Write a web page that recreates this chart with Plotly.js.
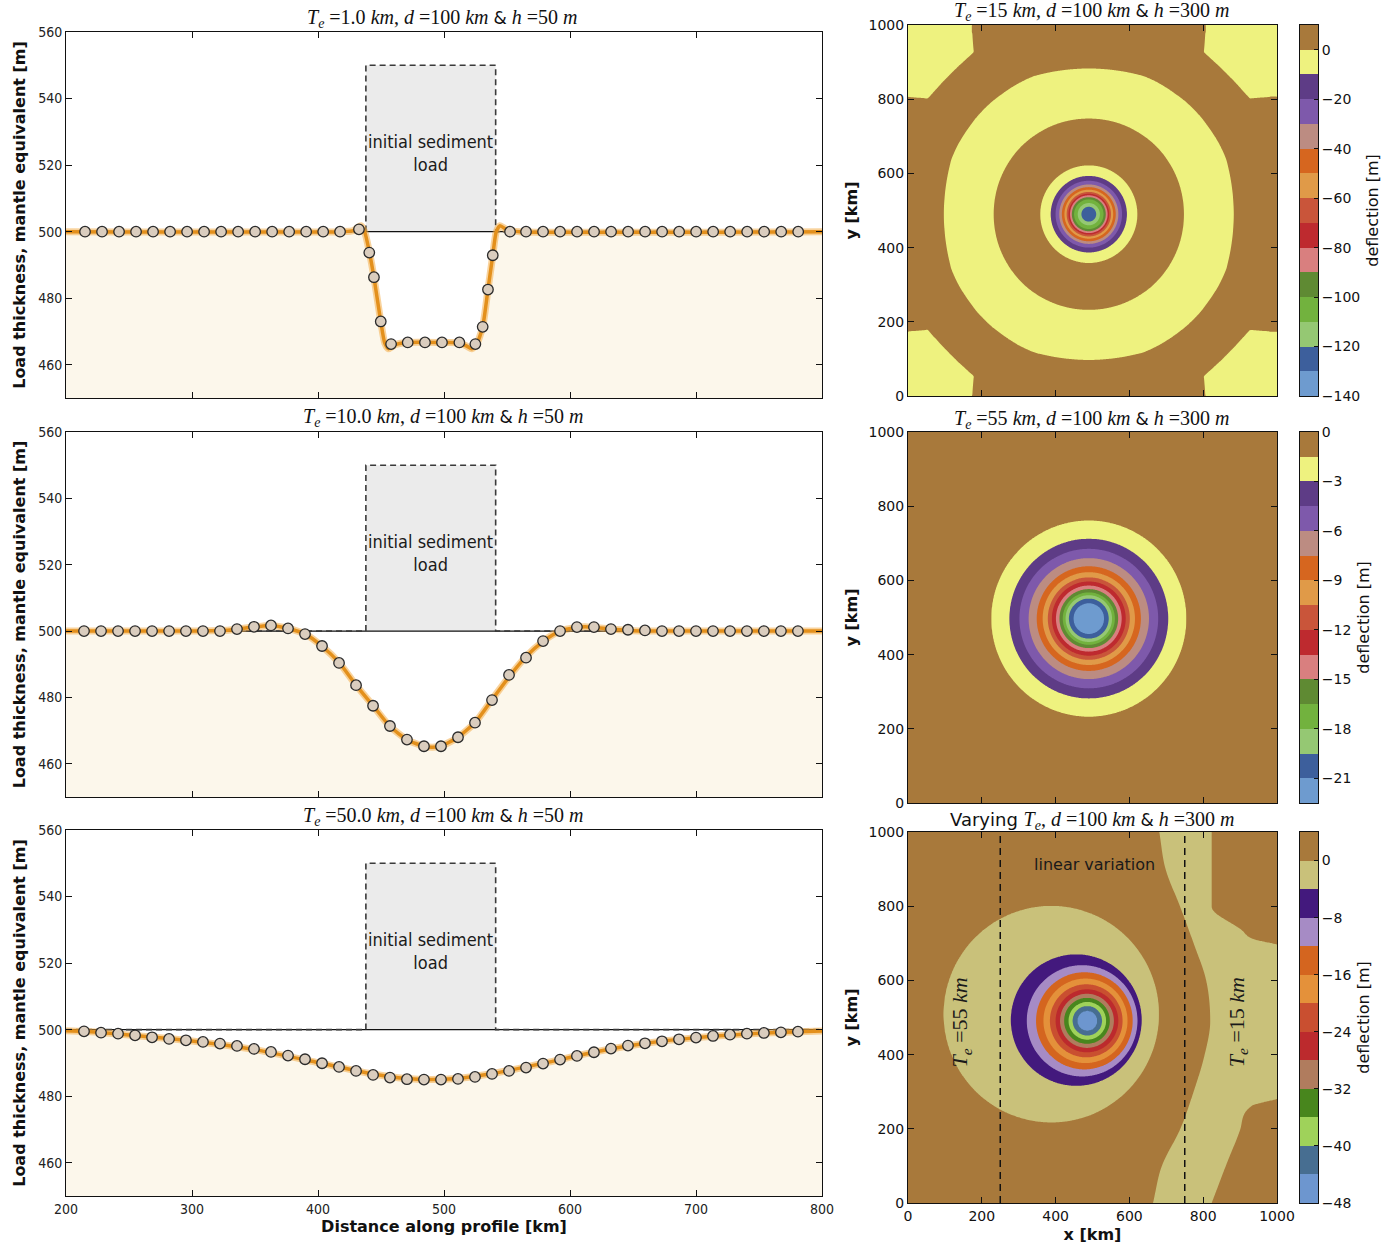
<!DOCTYPE html>
<html><head><meta charset="utf-8">
<script src="https://cdn.plot.ly/plotly-3.0.1.min.js"></script>
<style>html,body{margin:0;padding:0;background:#fff}</style>
</head><body><div id="chart" style="width:1394px;height:1245px"></div>
<script>
// ================= DATA =================
// --- profile panels (left column) ---
const profileTicksX = [200, 300, 400, 500, 600, 700, 800];
const profileTicksY = [460, 480, 500, 520, 540, 560];
const baseLevel = 500;            // mantle-equivalent surface before loading [m]
const loadStart = 438, loadEnd = 541, loadTop = 550; // initial sediment load

// Te = 1 km
const curveA_x = [200, 420, 428, 434, 437, 440.7, 444.4, 449.8, 453, 456, 461, 470, 500, 512, 518, 522, 526, 530.7, 534.9, 538.7, 541.5, 544.5, 550, 560, 800];
const curveA_y = [500, 500, 500.3, 501.8, 500, 494, 486.3, 473, 466.5, 464.8, 466, 466.7, 466.7, 466.6, 465.6, 464.8, 466.2, 471.4, 482.6, 492.9, 500, 501.8, 500.5, 500, 500];
const markersA_x = [215.1,228.6,242.1,255.6,269.1,282.6,296.1,309.6,323.1,336.6,350.1,363.6,377.1,390.6,404.1,417.5,
  432.5,440.7,444.4,449.8,458.0,471.2,484.9,498.4,512.2,524.9,530.7,534.9,538.7,552.4,
  565.1,578.6,592.1,605.6,619.1,632.6,646.1,659.6,673.1,686.6,700.1,713.6,727.1,740.6,754.1,767.6,781.1];
const markersA_y = [500,500,500,500,500,500,500,500,500,500,500,500,500,500,500,500,
  500.7,493.7,486.3,473.0,466.2,466.7,466.7,466.7,466.7,466.2,471.4,482.6,492.9,500.0,
  500,500,500,500,500,500,500,500,500,500,500,500,500,500,500,500,500];

// Te = 10 km
const curveB_x = [200, 300, 330, 350, 363, 376, 390, 403, 417, 430, 444, 457, 471, 484, 491, 498, 511, 525, 538, 552, 565, 579, 592, 605, 612, 619, 633, 650, 680, 800];
const curveB_y = [500, 500, 500.3, 501.3, 501.7, 500.8, 499.1, 495.5, 490.4, 483.8, 477.4, 471.3, 467.2, 465.3, 465.0, 465.4, 468.0, 472.6, 479.3, 486.4, 492.3, 497.0, 500.0, 501.1, 501.3, 501.1, 500.6, 500.1, 500, 500];
const markersBC_x = [214.3,227.8,241.3,254.8,268.3,281.8,295.2,308.7,322.2,335.7,349.2,362.7,376.2,389.7,403.2,416.7,430.2,443.7,457.1,470.6,484.1,497.6,511.1,524.6,538.1,551.6,565.1,578.6,592.1,605.5,619.0,632.5,646.0,659.5,673.0,686.5,700.0,713.5,727.0,740.4,753.9,767.4,780.9];
const markersB_y = [500,500,500,500,500,500,500,500,500,500.6,501.3,501.7,500.8,499.1,495.5,490.4,483.7,477.5,471.4,467.3,465.3,465.3,468.0,472.4,479.2,486.8,492.0,497.0,500.0,501.2,501.2,500.6,500.4,500.2,500,500,500,500,500,500,500,500,500];

// Te = 50 km
const curveC_x = [200, 214, 250, 300, 350, 400, 440, 470, 490, 510, 540, 580, 620, 660, 700, 740, 781, 800];
const curveC_y = [499.7, 499.5, 498.4, 496.6, 494.0, 490.1, 486.9, 485.3, 485.0, 485.3, 486.9, 490.0, 493.3, 495.9, 497.6, 498.7, 499.4, 499.6];
const markersC_y = [499.5,499.1,498.8,498.3,497.7,497.2,496.8,496.3,495.8,495.1,494.2,493.3,492.2,491.1,489.9,488.8,487.6,486.4,485.6,485.1,485.0,485.0,485.2,485.8,486.7,487.6,488.6,489.8,491.0,492.1,493.2,494.3,495.2,495.9,496.5,497.1,497.6,498.1,498.5,498.8,499.0,499.2,499.4];

// --- map panels (right column) ---
const mapTicks = [0, 200, 400, 600, 800, 1000];
// Te = 15 km : radial deflection profile (periodic domain)
const centerD = [490, 490], periodD = 1000;
const rD = [0, 18, 22, 30, 40, 46, 51, 55, 60, 66, 73, 80, 90, 103, 131, 190, 260, 328, 392, 420, 470, 500, 535, 580, 600, 644, 680, 713, 741, 816, 858, 891, 950, 1500];
const wD = [-126, -121, -119, -110, -100, -90, -80, -70, -60, -50, -40, -30, -20, -10, 0, 6, 0, -3, 0, 0.9, 1.2, 0.8, 0.4, 0.11, 0.03, -0.27, -0.24, -0.2, -0.19, -0.08, -0.055, -0.04, 0, 0];
const levelsD = {start: -130, end: 0, size: 10};
const ticksD = [0, -20, -40, -60, -80, -100, -120, -140];

// Te = 55 km : radial deflection profile
const centerE = [490, 497];
const rE = [0, 20, 41.6, 54, 63, 70.5, 79.5, 89, 100, 111, 125, 141, 163, 188, 215, 264, 350, 600, 1500];
const wE = [-22.3, -22.0, -21, -19.5, -18, -16.5, -15, -13.5, -12, -10.5, -9, -7.5, -6, -4.5, -3, -1.5, -0.5, 0, 0];
const levelsE = {start: -21, end: -1.5, size: 1.5};
const ticksE = [0, -3, -6, -9, -12, -15, -18, -21];

// varying Te : deflection contour rings (level, ring centre, ring radius)
const ringLevelF = [-44, -40, -36, -32, -28, -24, -20, -16, -12, -8, -4, 0];
const ringCxF    = [486, 486, 486, 485, 485, 485, 483, 481, 478, 472, 456, 388];
const ringCyF    = [491, 491, 491, 491, 491, 491, 491, 491, 491, 491, 493, 509];
const ringRF     = [27, 40, 51, 62, 73, 85, 98.5, 114, 131, 150, 177, 292];
const coreF = -46;
// secondary negative band on the thin-plate side (Te = 15 km): its edges
const bandLeftY  = [0, 100, 200, 300, 400, 490, 600, 700, 800, 900, 1000];
const bandLeftX  = [664, 688, 738, 774, 804, 819, 808, 774, 737, 698, 681];
const bandRightY = [0, 107, 197, 262, 287, 691, 712, 736, 799, 1000];
const bandRightX = [823, 864, 900, 932, 1012, 1012, 934, 904, 823, 823];
const levelsF = {start: -44, end: 0, size: 4};
const ticksF = [0, -8, -16, -24, -32, -40, -48];
const teBoundsX = [250, 750];   // Te = 55 km left of 250, Te = 15 km right of 750

const paletteDE = ['#6E9BCF','#3D5F9C','#95C873','#72B23E','#5F8A33','#D97F7F','#BE2A2F','#C9553A','#E09A48','#D6661F','#BC8C82','#7E59AB','#5E3C86','#EEF27F','#A8793B'];
const paletteF  = ['#6D96CF','#476E91','#9FD25A','#48861D','#B07C5E','#BC2A2D','#C94F30','#E4913A','#D4651F','#A68BC5','#43197D','#C9C17A','#A8793B'];

// ================= HELPERS =================
function interp(xs, ys, x) {
  if (x <= xs[0]) return ys[0];
  const n = xs.length;
  if (x >= xs[n-1]) return ys[n-1];
  let lo = 0, hi = n - 1;
  while (hi - lo > 1) { const m = (lo + hi) >> 1; if (xs[m] <= x) lo = m; else hi = m; }
  return ys[lo] + (x - xs[lo]) / (xs[hi] - xs[lo]) * (ys[hi] - ys[lo]);
}
// monotone cubic (Fritsch-Carlson) interpolant through a table
function monotone(xs, ys) {
  const n = xs.length, d = [], m = new Array(n);
  for (let i = 0; i < n - 1; i++) d.push((ys[i+1] - ys[i]) / (xs[i+1] - xs[i]));
  m[0] = d[0]; m[n-1] = d[n-2];
  for (let i = 1; i < n - 1; i++) m[i] = (d[i-1] * d[i] <= 0) ? 0 : (d[i-1] + d[i]) / 2;
  for (let i = 0; i < n - 1; i++) {
    if (d[i] === 0) { m[i] = 0; m[i+1] = 0; continue; }
    const a = m[i] / d[i], b = m[i+1] / d[i], s = a * a + b * b;
    if (s > 9) { const t = 3 / Math.sqrt(s); m[i] = t * a * d[i]; m[i+1] = t * b * d[i]; }
  }
  return function(x) {
    if (x <= xs[0]) return ys[0];
    if (x >= xs[n-1]) return ys[n-1];
    let lo = 0, hi = n - 1;
    while (hi - lo > 1) { const k = (lo + hi) >> 1; if (xs[k] <= x) lo = k; else hi = k; }
    const h = xs[hi] - xs[lo], t = (x - xs[lo]) / h, t2 = t * t, t3 = t2 * t;
    return (2*t3 - 3*t2 + 1) * ys[lo] + (t3 - 2*t2 + t) * h * m[lo] + (-2*t3 + 3*t2) * ys[hi] + (t3 - t2) * h * m[hi];
  };
}
const bandLeftF = monotone(bandLeftY, bandLeftX);
const bandRightF = monotone(bandRightY, bandRightX);
function gridAxis(f0, f1, fine, coarse) {
  const a = [];
  for (let v = 0; v < f0 - 1e-9; v += coarse) a.push(+v.toFixed(3));
  for (let v = f0; v < f1 - 1e-9; v += fine) a.push(+v.toFixed(3));
  for (let v = f1; v < 1000 - 1e-9; v += coarse) a.push(+v.toFixed(3));
  a.push(1000);
  return a;
}
function buildZ(xs, ys, f) { return ys.map(y => xs.map(x => f(x, y))); }
function steps(pal) { return pal.map((c, j) => [j / (pal.length - 1), c]); }

function fieldD(x, y) {
  let s = 0;
  for (let i = -1; i <= 1; i++) for (let j = -1; j <= 1; j++) {
    const d = Math.hypot(x - centerD[0] - i * periodD, y - centerD[1] - j * periodD);
    s += interp(rD, wD, d);
  }
  return s;
}
function fieldE(x, y) { return interp(rE, wE, Math.hypot(x - centerE[0], y - centerE[1])); }
function fieldF(x, y) {
  const n = ringLevelF.length;
  let k = -1;
  const s = new Array(n);
  for (let i = 0; i < n; i++) s[i] = Math.hypot(x - ringCxF[i], y - ringCyF[i]) / ringRF[i];
  for (let i = 0; i < n; i++) { if (s[i] <= 1) { k = i; break; } }
  let z;
  if (k === 0) z = coreF + (ringLevelF[0] - coreF) * s[0];
  else if (k > 0) {
    const a = Math.max(s[k-1] - 1, 0), b = 1 - s[k];
    z = ringLevelF[k-1] + (ringLevelF[k] - ringLevelF[k-1]) * a / (a + b + 1e-12);
  } else {
    z = Math.min(3.5, ringLevelF[n-1] + (s[n-1] - 1) * ringRF[n-1] / 40);
  }
  const L = bandLeftF(y), R = bandRightF(y);
  const d = Math.min(x - L, R - x);
  const zb = Math.max(-3.5, Math.min(3.5, -d / 25));
  return Math.min(z, zb);
}

// ================= LAYOUT GEOMETRY =================
const W = 1394, H = 1245;
const dx = (a, b) => [a / W, b / W];
const dy = (top, bot) => [1 - bot / H, 1 - top / H];
const fCond = 'DejaVu Sans Condensed, DejaVu Sans, sans-serif';
const fSans = 'DejaVu Sans, sans-serif';
const fSerif = 'Liberation Serif, DejaVu Serif, serif';
const ink = '#111';

const traces = [];
const profiles = [
  {ax: 'x', ay: 'y', cx: curveA_x, cy: curveA_y, mx: markersA_x, my: markersA_y},
  {ax: 'x2', ay: 'y2', cx: curveB_x, cy: curveB_y, mx: markersBC_x, my: markersB_y},
  {ax: 'x3', ay: 'y3', cx: curveC_x, cy: curveC_y, mx: markersBC_x, my: markersC_y}
];
const loadX = [200, loadStart, loadStart, loadEnd, loadEnd, 800];
const loadY = [baseLevel, baseLevel, loadTop, loadTop, baseLevel, baseLevel];
profiles.forEach(p => {
  const common = {xaxis: p.ax, yaxis: p.ay, hoverinfo: 'skip', showlegend: false};
  traces.push(Object.assign({x: p.cx, y: p.cy, mode: 'lines', line: {width: 0, shape: 'spline', smoothing: 0.6}, fill: 'tozeroy', fillcolor: '#FCF7EB'}, common));
  traces.push(Object.assign({x: [loadStart, loadStart, loadEnd, loadEnd], y: [baseLevel, loadTop, loadTop, baseLevel], mode: 'lines', fill: 'toself', fillcolor: '#EBEBEB', line: {width: 0}}, common));
  traces.push(Object.assign({x: [200, 800], y: [baseLevel, baseLevel], mode: 'lines', line: {color: '#111', width: 1.2}}, common));
  traces.push(Object.assign({x: loadX, y: loadY, mode: 'lines', line: {color: '#3a3a3a', width: 1.6, dash: '6px,4px'}}, common));
  traces.push(Object.assign({x: p.cx, y: p.cy, mode: 'lines', line: {color: 'rgba(244,168,60,0.5)', width: 7, shape: 'spline', smoothing: 0.6}}, common));
  traces.push(Object.assign({x: p.cx, y: p.cy, mode: 'lines', line: {color: '#E3901C', width: 3.5, shape: 'spline', smoothing: 0.6}}, common));
  traces.push(Object.assign({x: p.mx, y: p.my, mode: 'markers', marker: {size: 10.5, color: '#DACDBE', line: {color: '#2a2a2a', width: 1.3}}}, common));
});

// maps
const gxD = gridAxis(355, 625, 1.25, 4), gyD = gxD;
const gxE = gridAxis(200, 780, 2, 5), gyE = gxE;
const gxF = gridAxis(250, 720, 2, 4), gyF = gxF;
const maps = [
  {ax: 'x4', ay: 'y4', gx: gxD, gy: gyD, f: fieldD, lv: levelsD, pal: paletteDE},
  {ax: 'x5', ay: 'y5', gx: gxE, gy: gyE, f: fieldE, lv: levelsE, pal: paletteDE},
  {ax: 'x6', ay: 'y6', gx: gxF, gy: gyF, f: fieldF, lv: levelsF, pal: paletteF}
];
maps.forEach(m => {
  traces.push({type: 'contour', xaxis: m.ax, yaxis: m.ay, x: m.gx, y: m.gy, z: buildZ(m.gx, m.gy, m.f),
    autocontour: false, contours: {start: m.lv.start, end: m.lv.end, size: m.lv.size, coloring: 'fill', showlines: false},
    line: {width: 0, smoothing: 1}, colorscale: steps(m.pal), showscale: false, hoverinfo: 'skip'});
});
// Te boundary lines in varying-Te panel
teBoundsX.forEach(xv => traces.push({x: [xv, xv], y: [0, 1000], xaxis: 'x6', yaxis: 'y6', mode: 'lines',
  line: {color: '#111', width: 1.5, dash: '7px,5px'}, hoverinfo: 'skip', showlegend: false}));

// colour bars as heatmaps
const bars = [
  {ax: 'x7', ay: 'y7', lv: levelsD, pal: paletteDE},
  {ax: 'x8', ay: 'y8', lv: levelsE, pal: paletteDE},
  {ax: 'x9', ay: 'y9', lv: levelsF, pal: paletteF}
];
bars.forEach(b => {
  const edges = [];
  const n = Math.round((b.lv.end - b.lv.start) / b.lv.size);
  for (let i = -1; i <= n + 1; i++) edges.push(+(b.lv.start + i * b.lv.size).toFixed(4));
  const mids = [];
  for (let i = 0; i < edges.length - 1; i++) mids.push([(edges[i] + edges[i+1]) / 2]);
  b.range = [edges[0], edges[edges.length - 1]];
  traces.push({type: 'heatmap', xaxis: b.ax, yaxis: b.ay, x: [0, 1], y: edges, z: mids,
    zmin: mids[0][0], zmax: mids[mids.length-1][0], colorscale: steps(b.pal), showscale: false, hoverinfo: 'skip', zsmooth: false});
});

// ================= AXES =================
const layout = {
  width: W, height: H, margin: {l: 0, r: 0, t: 0, b: 0}, paper_bgcolor: '#fff', plot_bgcolor: '#fff',
  showlegend: false, hovermode: false, font: {family: fSans, color: ink}, annotations: []
};
function frameAxis(extra) {
  return Object.assign({showline: true, linecolor: '#111', linewidth: 1, mirror: 'ticks', ticks: 'inside', ticklen: 6,
    tickcolor: '#111', showgrid: false, zeroline: false, fixedrange: true}, extra);
}
const profDomY = [dy(32, 398), dy(432, 797), dy(830, 1196)];
['', '2', '3'].forEach((s, i) => {
  layout['xaxis' + s] = frameAxis({domain: dx(66, 822), anchor: 'y' + s, range: [200, 800], tickvals: profileTicksX,
    showticklabels: i === 2, tickfont: {family: fCond, size: 14, color: '#222'},
    title: i === 2 ? {text: '<b>Distance along profile [km]</b>', font: {family: fSans, size: 16, color: ink}, standoff: 5} : undefined});
  layout['yaxis' + s] = frameAxis({domain: profDomY[i], anchor: 'x' + s, range: [450, 560], tickvals: profileTicksY,
    tickfont: {family: fCond, size: 14, color: '#222'},
    title: {text: '<b>Load thickness, mantle equivalent [m]</b>', font: {family: fSans, size: 16, color: ink}, standoff: 8}});
});
const mapDomY = [dy(25, 396), dy(432, 803), dy(832, 1203)];
const tickSets = [ticksD, ticksE, ticksF];
[4, 5, 6].forEach((n, i) => {
  layout['xaxis' + n] = frameAxis({domain: dx(908, 1277), anchor: 'y' + n, range: [0, 1000], tickvals: mapTicks,
    showticklabels: i === 2, tickfont: {family: fSans, size: 14, color: ink},
    title: i === 2 ? {text: '<b>x [km]</b>', font: {family: fSans, size: 16, color: ink}, standoff: 6} : undefined});
  layout['yaxis' + n] = frameAxis({domain: mapDomY[i], anchor: 'x' + n, range: [0, 1000], tickvals: mapTicks,
    tickfont: {family: fSans, size: 14, color: ink},
    title: {text: '<b>y [km]</b>', font: {family: fSans, size: 16, color: ink}, standoff: 6}});
  const cb = 6 + n - 3; // 7,8,9
  layout['xaxis' + cb] = {domain: dx(1300, 1318), anchor: 'y' + cb, range: [0, 1], showticklabels: false, ticks: '',
    showline: true, mirror: true, linecolor: '#111', showgrid: false, zeroline: false, fixedrange: true};
  layout['yaxis' + cb] = {domain: mapDomY[i], anchor: 'x' + cb, side: 'right', range: bars[i].range, tickvals: tickSets[i],
    showline: true, mirror: true, linecolor: '#111', ticks: 'inside', ticklen: 4, tickcolor: '#111', showgrid: false, zeroline: false,
    tickfont: {family: fSans, size: 14, color: ink}, fixedrange: true,
    title: {text: 'deflection [m]', font: {family: fSans, size: 16, color: ink}, standoff: 7}};
});

// ================= TEXT =================
const ann = layout.annotations;
function paperText(text, xpx, ypx, size, extra) {
  ann.push(Object.assign({text: text, xref: 'paper', yref: 'paper', x: xpx / W, y: 1 - ypx / H, xanchor: 'center', yanchor: 'middle',
    showarrow: false, font: {family: fSerif, size: size, color: ink}}, extra || {}));
}
const amp = '<span style="font-family:DejaVu Sans;font-size:17px">&amp;</span>';
const teTxt = v => `<i>T<sub>e</sub></i> =${v} <i>km</i>, <i>d</i> =100 <i>km</i> ${amp} `;
paperText(teTxt('1.0') + '<i>h</i> =50 <i>m</i>', 442, 18, 20);
paperText(teTxt('10.0') + '<i>h</i> =50 <i>m</i>', 443, 417, 20);
paperText(teTxt('50.0') + '<i>h</i> =50 <i>m</i>', 443, 816, 20);
paperText(teTxt('15') + '<i>h</i> =300 <i>m</i>', 1092, 12, 20);
paperText(teTxt('55') + '<i>h</i> =300 <i>m</i>', 1092, 420, 20);
paperText('<span style="font-family:DejaVu Sans;font-size:18px">Varying </span><i>T<sub>e</sub></i>, <i>d</i> =100 <i>km</i> ' + amp + ' <i>h</i> =300 <i>m</i>', 1092, 820, 20);

['x', 'x2', 'x3'].forEach((xr, i) => {
  ann.push({text: 'initial sediment<br>load', xref: xr, yref: ['y', 'y2', 'y3'][i], x: (loadStart + loadEnd) / 2, y: 523.5,
    showarrow: false, font: {family: fCond, size: 18, color: '#1a1a1a'}, align: 'center'});
});
ann.push({text: 'linear variation', xref: 'x6', yref: 'y6', x: 505, y: 913, showarrow: false,
  font: {family: fSans, size: 16, color: '#1a1a1a'}});
ann.push({text: '<i>T<sub>e</sub></i> =55 <i>km</i>', xref: 'x6', yref: 'y6', x: 143, y: 486, textangle: -90, showarrow: false,
  font: {family: fSerif, size: 22, color: '#1a1a1a'}});
ann.push({text: '<i>T<sub>e</sub></i> =15 <i>km</i>', xref: 'x6', yref: 'y6', x: 893, y: 486, textangle: -90, showarrow: false,
  font: {family: fSerif, size: 22, color: '#1a1a1a'}});

Plotly.newPlot('chart', traces, layout, {staticPlot: true, displayModeBar: false});
</script>
</body></html>
